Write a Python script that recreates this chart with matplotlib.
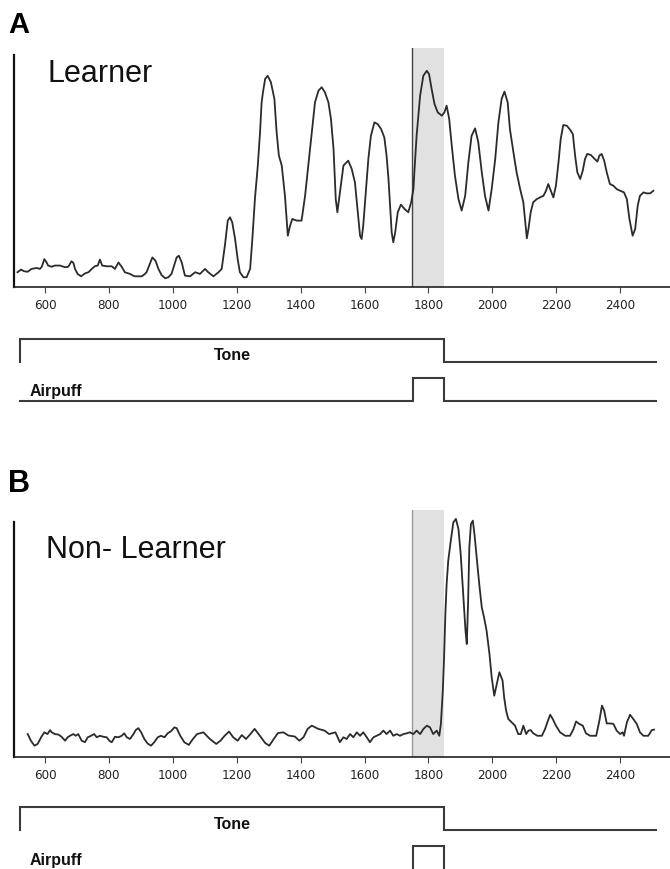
import matplotlib
matplotlib.use("Agg")
import matplotlib.pyplot as plt
from matplotlib import font_manager

# ---------------- data ----------------
# Panel A (Learner): time (ms) and response amplitude (arbitrary units)
learner_t = [514, 525, 535, 546, 558, 574, 584, 590, 598, 605, 610, 621, 631, 647, 663, 673, 683, 689, 694, 702,
             713, 725, 736, 748, 756, 765, 772, 779, 793, 809, 819, 830, 840, 850, 866, 880, 892, 903, 911, 918,
             926, 936, 946, 955, 965, 976, 986, 996, 1007, 1012,
             1019, 1028, 1038, 1054, 1070, 1085, 1101, 1111, 1127, 1143, 1153, 1163, 1172, 1179, 1186, 1195, 1203,
             1210, 1221, 1231, 1242, 1249, 1257, 1266, 1273, 1278, 1283, 1289, 1297, 1307, 1318, 1325, 1332, 1341,
             1351, 1360, 1367, 1374, 1388, 1403, 1414, 1424, 1435, 1445, 1456, 1466, 1476, 1487, 1495, 1503, 1510,
             1515, 1523, 1534,
             1549, 1560, 1570, 1579, 1586, 1591, 1596, 1604, 1612, 1620, 1631, 1641, 1652, 1662, 1669, 1675, 1680,
             1685, 1690, 1696, 1704, 1714, 1725, 1737, 1746, 1753, 1756, 1763, 1774, 1784, 1795, 1802, 1810, 1819,
             1829, 1842, 1850, 1857, 1865, 1873, 1883, 1894, 1904, 1915, 1925, 1935, 1946, 1956, 1967, 1977, 1988,
             1998, 2009, 2019, 2029, 2038, 2048,
             2055, 2066, 2076, 2087, 2097, 2102, 2108, 2113, 2120, 2128, 2139, 2149, 2160, 2168, 2175, 2183, 2191,
             2199, 2207, 2214, 2222, 2233, 2243, 2252, 2259, 2266, 2275, 2283, 2290, 2297, 2308, 2318, 2329, 2335,
             2342, 2350, 2358, 2368, 2379, 2389, 2400, 2412, 2421, 2429, 2439, 2447, 2455, 2462, 2473, 2483, 2494,
             2504]
learner_v = [6.3, 7.4, 6.7, 6.5, 7.7, 8.1, 7.7, 8.6, 11.8, 10.4, 9.1, 8.6, 9.1, 9.1, 8.4, 8.6, 10.9, 10.2, 7.7, 5.6,
             4.6, 5.8, 6.3, 7.9, 8.8, 9.1, 11.6, 9.1, 8.8, 8.8, 7.7, 10.4, 8.6, 6.3, 5.6, 4.6, 4.6, 4.6, 5.4, 6.3,
             9.1, 12.5, 11.1, 7.7, 5.1, 3.8, 4.2, 5.6, 10.4, 12.5,
             13.2, 10.4, 4.9, 4.6, 6.3, 5.6, 7.7, 6.3, 4.6, 6.3, 7.7, 17.4, 27.9, 29.3, 27.2, 20.2, 11.8,
             6.3, 4.2, 4.2, 7.7, 20.2, 36.9, 50.9, 64.8, 77.4, 82.3, 87.2, 88.5, 85.8, 78.8, 64.8, 55.1, 50.9,
             38.3, 21.6, 25.8, 28.6, 27.9, 27.9, 38.3, 50.9, 64.8, 77.4, 82.3, 83.7, 81.6, 77.4, 70.4, 57.9, 36.9,
             31.4, 39.7, 50.9,
             53.0, 49.5, 43.9, 31.4, 21.6, 20.2, 25.8, 39.7, 53.7, 63.4, 69.0, 68.3, 66.2, 62.7, 55.1, 45.3, 34.2,
             23.0, 18.8, 23.0, 31.4, 34.6, 32.8, 31.4, 35.6, 41.1, 48.1, 63.4, 80.2, 88.5, 90.6, 89.2, 83.0, 76.7,
             73.2, 71.8, 73.2, 76.0, 70.4, 59.3, 46.7, 36.9, 32.1, 38.3, 52.3, 63.4, 66.5, 60.7, 48.1, 38.3, 32.1,
             41.1, 53.7, 69.0, 78.8, 81.9, 77.4,
             66.2, 56.5, 48.1, 41.1, 35.6, 28.6, 20.5, 24.4, 31.4, 35.6, 36.9, 37.6, 38.3, 40.4, 43.2, 40.4, 37.6,
             42.5, 52.3, 62.1, 67.9, 67.6, 66.0, 64.1, 55.1, 48.1, 45.3, 48.8, 53.7, 55.8, 55.4, 54.0, 52.6, 55.1,
             55.8, 53.0, 48.1, 43.2, 42.5, 41.1, 40.4, 39.7, 36.9, 28.6, 21.6, 24.4, 34.2, 38.3, 39.7, 39.3, 39.3,
             40.4]

# Panel B (Non-Learner)
nonlearner_t = [546, 556, 567, 577, 588, 598, 608, 616, 621, 631, 642, 652, 663, 671, 678, 689, 696, 704, 715, 725,
                734, 744, 754, 762, 772, 783, 793, 803, 809, 819, 830, 840, 848, 856, 866, 877, 884, 892, 901, 911,
                921, 932, 942, 953, 963, 974, 984, 994, 1005, 1012,
                1023, 1036, 1050, 1063, 1076, 1096, 1116, 1136, 1149, 1163, 1176, 1189, 1203, 1216, 1229, 1243, 1256,
                1272, 1289, 1302, 1316, 1329, 1346, 1362, 1382, 1396, 1409, 1422, 1435, 1455, 1475, 1489, 1509,
                1523, 1534, 1544, 1555, 1565, 1576, 1586, 1596, 1607, 1617, 1628, 1638, 1649, 1659, 1669, 1680, 1690,
                1701, 1711, 1722, 1732, 1742, 1753, 1763, 1774, 1784, 1795, 1805, 1815, 1826, 1834, 1839, 1845, 1849,
                1853, 1857, 1862, 1870, 1878, 1886, 1894, 1901, 1909, 1916, 1920, 1924, 1928, 1933, 1939, 1944, 1951,
                1959, 1967, 1974, 1982, 1991, 1998, 2006, 2014, 2022,
                2032, 2037, 2043, 2050, 2061, 2071, 2081, 2089, 2097, 2106, 2113, 2120, 2128, 2141, 2155, 2165, 2172,
                2181, 2189, 2199, 2212, 2228, 2243, 2254, 2262, 2272, 2283, 2293, 2306, 2325, 2335, 2343, 2350, 2358,
                2368, 2379, 2389, 2400, 2408, 2412, 2421, 2431, 2441, 2452, 2462, 2473, 2488, 2499, 2506]
nonlearner_v = [9.4, 6.7, 4.7, 5.4, 8.1, 10.1, 9.4, 11.0, 10.1, 9.4, 9.2, 8.3, 6.7, 8.1, 8.7, 9.4, 8.7, 9.4, 6.7, 6.1,
                8.1, 8.7, 9.4, 8.1, 8.7, 8.3, 8.1, 6.5, 6.1, 8.3, 8.1, 8.7, 9.7, 8.1, 7.4, 9.4, 11.0, 11.8, 10.1, 7.4,
                5.6, 4.7, 6.1, 8.1, 8.7, 8.1, 9.7, 10.5, 12.1, 11.8,
                8.8, 6.1, 5.0, 7.4, 9.4, 10.1, 7.4, 5.4, 6.7, 8.8, 10.4, 8.1, 6.7, 9.0, 7.4, 9.4, 11.5,
                8.8, 5.8, 4.7, 7.4, 9.8, 10.1, 8.8, 8.4, 6.7, 8.1, 11.5, 12.8, 11.5, 10.8, 9.4, 10.1,
                6.1, 8.1, 7.4, 9.4, 8.1, 10.1, 8.7, 10.1, 8.1, 6.1, 8.1, 8.7, 9.4, 10.8, 9.4, 10.8, 8.7,
                9.4, 8.7, 9.4, 9.7, 10.1, 9.4, 10.8, 9.4, 11.4, 12.8, 12.1, 9.4, 10.8, 8.7, 13.5, 26.9, 40.4,
                57.9, 70.1, 79.5, 87.6, 95.0, 96.4, 92.3, 82.2, 66.0, 51.2, 45.8, 62.0, 84.9, 94.3, 95.7, 90.3, 80.9,
                70.1, 60.6, 56.6, 51.2, 41.8, 32.3, 24.9, 29.6, 34.4,
                31.0, 24.2, 18.9, 15.5, 14.1, 12.8, 9.4, 9.4, 12.8, 9.4, 10.8, 11.0, 9.7, 8.7, 8.7, 11.4, 14.1,
                17.2, 15.5, 12.8, 10.1, 8.7, 8.7, 11.4, 14.5, 13.5, 12.8, 9.7, 8.7, 8.7, 14.8, 20.9, 18.9, 13.7,
                13.7, 13.5, 10.8, 9.4, 10.1, 8.7, 14.1, 17.2, 15.5, 13.5, 10.1, 8.7, 8.7, 11.0, 11.2]

tick_values = [600, 800, 1000, 1200, 1400, 1600, 1800, 2000, 2200, 2400]
tick_labels = [str(v) for v in tick_values]

# stimulus timing (ms)
tone_on, tone_off = 523, 1850
puff_on, puff_off = 1752, 1850
trial_end = 2512
shade_on, shade_off = 1750, 1850

# ---------------- fonts ----------------
plt.rcParams['font.family'] = ['Liberation Sans', 'DejaVu Sans']
tick_font = None
for f in font_manager.fontManager.ttflist:
    if f.name == 'Liberation Sans Narrow' and f.weight in (400, 'normal', 'regular') and f.style == 'normal':
        tick_font = font_manager.FontProperties(fname=f.fname, size=11)
        break
if tick_font is None:
    for f in font_manager.fontManager.ttflist:
        if 'DejaVuSansCondensed.ttf' in f.fname:
            tick_font = font_manager.FontProperties(fname=f.fname, size=9.5)
            break
if tick_font is None:
    tick_font = font_manager.FontProperties(family='Liberation Sans', size=9.5)

W, H = 670, 870
fig = plt.figure(figsize=(W / 100, H / 100), dpi=100)


def rect(left, top, right, bottom):
    return [left / W, 1 - bottom / H, (right - left) / W, (bottom - top) / H]


XLIM = (504, 2556)
TRACE = '#2b2b2b'
STIM = '#3a3a3a'


def trace_panel(top, bottom, t, v, spine_top, edge_color):
    ax = fig.add_axes(rect(14.3, top, W, bottom))
    ax.set_xlim(*XLIM)
    ax.set_ylim(0, 100)
    ax.axvspan(shade_on, shade_off, color='#e1e1e1', lw=0, zorder=1)
    ax.axvline(shade_on, color=edge_color, lw=1.0, zorder=2)
    ax.plot(t, v, color=TRACE, lw=1.3, zorder=3)
    for s in ('top', 'right'):
        ax.spines[s].set_visible(False)
    ax.spines['left'].set_bounds(0, spine_top)
    ax.spines['left'].set_linewidth(1.6)
    ax.spines['bottom'].set_linewidth(1.2)
    ax.spines['left'].set_color('#111111')
    ax.spines['bottom'].set_color('#222222')
    ax.set_yticks([])
    ax.set_xticks(tick_values)
    ax.set_xticklabels(tick_labels, fontproperties=tick_font, color='#222222')
    ax.tick_params(axis='x', direction='out', length=4.5, width=0.8, pad=3, color='#444444')
    return ax


def stim_panel(tone_top, tone_bot, puff_top, puff_bot, tone_label_y, puff_label_y):
    axt = fig.add_axes(rect(14.3, tone_top, W, tone_bot))
    axt.set_xlim(*XLIM)
    axt.set_ylim(0, 1)
    axt.axis('off')
    axt.plot([tone_on, tone_on, tone_off, tone_off, trial_end], [0, 1, 1, 0, 0],
             color=STIM, lw=1.5, clip_on=False, solid_joinstyle='miter')
    fig.text(232 / W, 1 - tone_label_y / H, 'Tone', ha='center', va='center',
             fontsize=11.5, fontweight='bold', color='#111111')

    axp = fig.add_axes(rect(14.3, puff_top, W, puff_bot))
    axp.set_xlim(*XLIM)
    axp.set_ylim(0, 1)
    axp.axis('off')
    axp.plot([tone_on, puff_on, puff_on, puff_off, puff_off, trial_end], [0, 0, 1, 1, 0, 0],
             color=STIM, lw=1.5, clip_on=False, solid_joinstyle='miter')
    fig.text(30 / W, 1 - puff_label_y / H, 'Airpuff', ha='left', va='center',
             fontsize=11.5, fontweight='bold', color='#111111')


# Panel A
trace_panel(49.3, 288.3, learner_t, learner_v, 97.4, '#444444')
stim_panel(340, 362.7, 378.7, 401.7, 356, 391.5)
fig.text(8 / W, 1 - 33 / H, 'A', fontsize=21, fontweight='bold', ha='left', va='baseline')
fig.text(47 / W, 1 - 82 / H, 'Learner', fontsize=22, ha='left', va='baseline', color='#111111')

# Panel B
trace_panel(511, 758.3, nonlearner_t, nonlearner_v, 95.0, '#999999')
stim_panel(808.3, 831, 847.3, 872.5, 824.5, 860.5)
fig.text(8 / W, 1 - 492 / H, 'B', fontsize=22, fontweight='bold', ha='left', va='baseline')
fig.text(46 / W, 1 - 558 / H, 'Non- Learner', fontsize=22, ha='left', va='baseline', color='#111111')

fig.savefig('out.png', dpi=100, facecolor='white')
